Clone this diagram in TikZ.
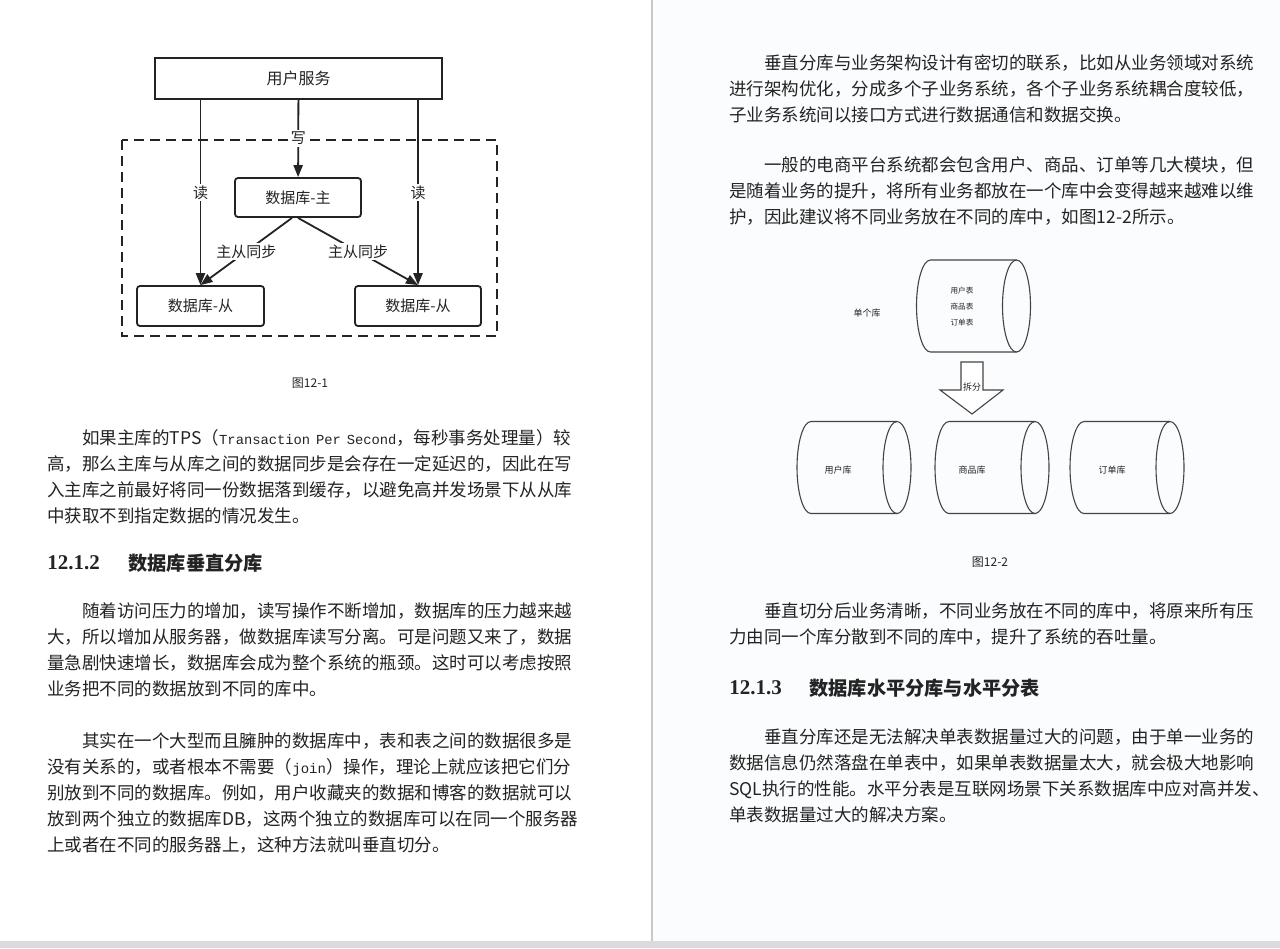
\documentclass[tikz,border=0pt]{standalone}
\usepackage{fontspec}
\setmainfont{Noto Sans CJK SC}
\newfontfamily\monofont{Liberation Mono}
\newfontfamily\headnum{Liberation Serif}
\usepackage{tikz}
\usetikzlibrary{arrows.meta,backgrounds,calc}
\definecolor{paper}{HTML}{FBFCFD}
\definecolor{ink}{HTML}{232323}
\definecolor{gutter}{HTML}{C9C9C9}
\newcommand{\bodyfont}{\fontsize{8.75pt}{13pt}\selectfont}
\newcommand{\dbcyl}[2]{%
  \draw[cyl] (#1+86,#2-46) -- (#1,#2-46) arc[start angle=-90,end angle=-270,x radius=14,y radius=46] -- (#1+86,#2+46);
  \draw[cyl] (#1+86,#2) ellipse[x radius=14,y radius=46];}

\begin{document}
\begin{tikzpicture}[x=0.5pt,y=-0.5pt,
  box/.style={draw=ink,line width=0.9pt,inner sep=0pt,text=ink,font=\fontsize{7.5pt}{9pt}\selectfont},
  arr/.style={-{Triangle[length=6pt,width=4.6pt]},draw=ink,line width=0.9pt},
  lbl/.style={fill=white,inner sep=1pt,text=ink,font=\fontsize{7.5pt}{9pt}\selectfont},
  cyl/.style={draw=ink!85,line width=0.55pt},
  tiny/.style={inner sep=0pt,text=ink,font=\fontsize{4.5pt}{6pt}\selectfont},
  caption/.style={inner sep=0pt,text=ink,font=\fontsize{6pt}{7pt}\selectfont},
  para/.style={anchor=base west,inner sep=0pt,text width=270pt,align=left,text=ink,font=\bodyfont},
  headn/.style={anchor=west,inner sep=0pt,text=ink,font=\headnum\bfseries\fontsize{10.5pt}{12pt}\selectfont},
  headt/.style={anchor=west,inner sep=0pt,text=ink,font=\bfseries\fontsize{9.6pt}{12pt}\selectfont}]
\fill[paper] (0,0) rectangle (1280,948);
\useasboundingbox (0,0) rectangle (1280,948);
\fill[white] (0,0) rectangle (650,941);
\fill[gutter] (650.5,0) rectangle (653,941);
\fill[gray!28] (0,941) rectangle (1280,948);

% figure 12-1
\node[box,minimum width=143.5pt,minimum height=20.5pt,font=\fontsize{8pt}{9pt}\selectfont] (svc) at (298.5,78.5) {用户服务};
\draw[ink,line width=0.9pt,dash pattern=on 5pt off 3pt] (122,140) rectangle (497,336);
\node[box,rounded corners=1.5pt,minimum width=63pt,minimum height=19.5pt] (master) at (298,197.5) {数据库-主};
\node[box,rounded corners=1.5pt,minimum width=63.5pt,minimum height=20pt] (slaveL) at (200.5,306) {数据库-从};
\node[box,rounded corners=1.5pt,minimum width=63pt,minimum height=20pt] (slaveR) at (418,306) {数据库-从};
\draw[arr] (svc) -- node[lbl] (wr) {写} (master);
\draw[arr] (svc.south -| slaveL) -- node[lbl] (rdL) {读} (slaveL.north);
\draw[arr] (svc.south -| slaveR) -- node[lbl] (rdR) {读} (slaveR.north);
\draw[arr] ([xshift=-3pt]master.south) -- node[lbl] (syncL) {主从同步} (slaveL.north);
\draw[arr] (master.south) -- node[lbl] (syncR) {主从同步} (slaveR.north);
\node[caption] (cap1) at (310,383) {图12-1};

% figure 12-2
\dbcyl{930.5}{306}
\dbcyl{811}{467.5}
\dbcyl{949}{467.5}
\dbcyl{1084}{467.5}
\node[tiny,align=center,font=\fontsize{3.8pt}{8pt}\selectfont] (tables) at (962,307) {用户表\\商品表\\订单表};
\node[tiny] (single) at (867,313) {单个库};
\draw[cyl,fill=white] (961,362) -- (983,362) -- (983,390) -- (1003,390) -- (972,414) -- (940,390) -- (961,390) -- cycle;
\node[tiny] (split) at (972,387) {拆分};
\node[tiny] (userdb) at (838,470) {用户库};
\node[tiny] (itemdb) at (972,470) {商品库};
\node[tiny] (orderdb) at (1112,470) {订单库};
\node[caption] (cap2) at (990,562) {图12-2};

% left page
\node[para] (p1) at (47,444.5) {\hspace*{17.5pt}如果主库的TPS（{\monofont\fontsize{6.9pt}{13pt}\selectfont Transaction Per Second}，每秒事务处理量）较\\
高，那么主库与从库之间的数据同步是会存在一定延迟的，因此在写\\
入主库之前最好将同一份数据落到缓存，以避免高并发场景下从从库\\
中获取不到指定数据的情况发生。};
\node[headn] (h2n) at (47,563) {12.1.2};
\node[headt] (h2t) at (128,563) {数据库垂直分库};
\node[para] (p2) at (47,617.5) {\hspace*{17.5pt}随着访问压力的增加，读写操作不断增加，数据库的压力越来越\\
大，所以增加从服务器，做数据库读写分离。可是问题又来了，数据\\
量急剧快速增长，数据库会成为整个系统的瓶颈。这时可以考虑按照\\
业务把不同的数据放到不同的库中。};
\node[para] (p3) at (47,747.5) {\hspace*{17.5pt}其实在一个大型而且臃肿的数据库中，表和表之间的数据很多是\\
没有关系的，或者根本不需要（{\monofont\fontsize{7pt}{13pt}\selectfont join}）操作，理论上就应该把它们分\\
别放到不同的数据库。例如，用户收藏夹的数据和博客的数据就可以\\
放到两个独立的数据库DB，这两个独立的数据库可以在同一个服务器\\
上或者在不同的服务器上，这种方法就叫垂直切分。};

% right page
\node[para] (p4) at (729,69.5) {\hspace*{17.5pt}垂直分库与业务架构设计有密切的联系，比如从业务领域对系统\\
进行架构优化，分成多个子业务系统，各个子业务系统耦合度较低，\\
子业务系统间以接口方式进行数据通信和数据交换。};
\node[para] (p5) at (729,171.5) {\hspace*{17.5pt}一般的电商平台系统都会包含用户、商品、订单等几大模块，但\\
是随着业务的提升，将所有业务都放在一个库中会变得越来越难以维\\
护，因此建议将不同业务放在不同的库中，如图12-2所示。};
\node[para] (p6) at (729,617.5) {\hspace*{17.5pt}垂直切分后业务清晰，不同业务放在不同的库中，将原来所有压\\
力由同一个库分散到不同的库中，提升了系统的吞吐量。};
\node[headn] (h3n) at (729,688) {12.1.3};
\node[headt] (h3t) at (809,688) {数据库水平分库与水平分表};
\node[para] (p7) at (729,743.5) {\hspace*{17.5pt}垂直分库还是无法解决单表数据量过大的问题，由于单一业务的\\
数据信息仍然落盘在单表中，如果单表数据量太大，就会极大地影响\\
SQL执行的性能。水平分表是互联网场景下关系数据库中应对高并发、\\
单表数据量过大的解决方案。};
\end{tikzpicture}
\end{document}
